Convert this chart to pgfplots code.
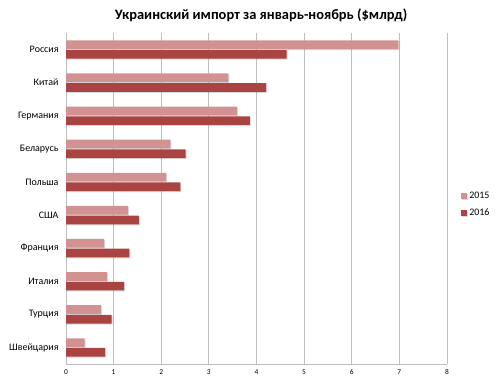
\documentclass[border=0pt]{standalone}
\usepackage{fontspec}
\setmainfont{Carlito}
\usepackage{pgfplots}
\pgfplotsset{compat=1.18}
\usetikzlibrary{shadows}
\definecolor{c15}{RGB}{210,146,146}
\definecolor{c16}{RGB}{169,68,66}
\definecolor{gridc}{RGB}{190,190,190}
\begin{document}
\begin{tikzpicture}[x=1bp,y=1bp]
\path[use as bounding box] (0,0) rectangle (500,385);
\node[font=\fontsize{14.5}{16}\selectfont\bfseries] at (261,370) {Украинский импорт за январь-ноябрь (\$млрд)};
\begin{axis}[
  at={(66bp,21bp)}, anchor=south west,
  scale only axis, width=381bp, height=331bp,
  xbar, xmin=0, xmax=8, ymin=-0.5, ymax=9.5,
  y dir=reverse,
  ytick={0,...,9},
  yticklabels={Россия,Китай,Германия,Беларусь,Польша,США,Франция,Италия,Турция,Швейцария},
  xtick={0,...,8},
  xmajorgrids, grid style={gridc, line width=0.8bp},
  axis x line*=bottom, axis y line*=left,
  axis line style={gridc, line width=1bp},
  x axis line style={-}, y axis line style={-},
  major tick length=0pt,
  /pgf/number format/assume math mode=true,
  xticklabel style={font=\fontsize{7.5}{8}\selectfont, yshift=-2bp},
  yticklabel style={font=\fontsize{10}{12}\selectfont, xshift=-4bp},
  bar width=8.7bp,
  legend style={at={(1.037,0.482)}, anchor=west, draw=none, fill=none,
    font=\fontsize{10}{12}\selectfont, row sep=5bp, inner sep=0pt,
    legend cell align=left},
  legend image code/.code={\fill[#1,draw=none] (0bp,-3bp) rectangle (6bp,3bp);},
]
\addplot[fill=c15, draw=none, bar shift=4.85bp,
  drop shadow={shadow xshift=1bp, shadow yshift=-1bp, opacity=0.3}]
  coordinates {(6.98,0) (3.41,1) (3.59,2) (2.19,3) (2.10,4) (1.30,5) (0.80,6) (0.86,7) (0.73,8) (0.39,9)};
\addplot[fill=c16, draw=none, bar shift=-4.85bp,
  drop shadow={shadow xshift=1bp, shadow yshift=-1bp, opacity=0.3}]
  coordinates {(4.63,0) (4.20,1) (3.86,2) (2.51,3) (2.40,4) (1.53,5) (1.33,6) (1.22,7) (0.96,8) (0.82,9)};
\legend{2015,2016}
\end{axis}
\end{tikzpicture}
\end{document}
